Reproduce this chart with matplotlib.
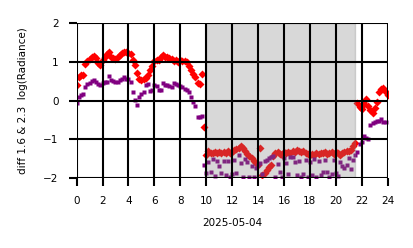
import numpy as np
import matplotlib
matplotlib.use("Agg")
import matplotlib.pyplot as plt

# diff of log radiance, 10-minute samples over the day
diff_16 = [
    0.40, 0.62, 0.65, 0.66, 0.95, 1.02, 1.07, 1.12, 1.16, 1.10, 0.97, 0.93,
    1.05, 1.13, 1.20, 1.26, 1.14, 1.10, 1.08, 1.12, 1.18, 1.24, 1.26, 1.25,
    1.22, 1.20, 1.05, 0.92, 0.72, 0.55, 0.52, 0.55, 0.58, 0.66, 0.78, 0.90,
    1.02, 1.06, 1.04, 1.12, 1.17, 1.12, 1.13, 1.10, 1.08, 1.02, 1.05, 1.00,
    1.05, 1.03, 1.02, 1.00, 0.90, 0.80, 0.68, 0.62, 0.45, 0.42, 0.68, -0.68,
    -1.42, -1.32, -1.35, -1.36, -1.33, -1.37, -1.34, -1.36, -1.33, -1.35, -1.30, -1.36,
    -1.33, -1.28, -1.25, -1.22, -1.19, -1.22, -1.30, -1.38, -1.44, -1.50, -1.56, -1.62,
    -1.68, -1.24, -1.92, -1.88, -1.80, -1.72, -1.66, -1.45, -1.36, -1.33, -1.38, -1.40,
    -1.34, -1.36, -1.33, -1.35, -1.30, -1.33, -1.28, -1.31, -1.34, -1.30, -1.36, -1.38,
    -1.42, -1.38, -1.40, -1.36, -1.38, -1.35, -1.37, -1.33, -1.38, -1.36, -1.34, -1.38,
    -1.33, -1.37, -1.40, -1.36, -1.34, -1.30, -1.32, -1.28, -1.18, -1.10, -0.07, -0.16,
    -0.22, -0.08, 0.05, -0.15, -0.25, -0.32, -0.20, -0.05, 0.22, 0.30, 0.33, 0.22,
    0.15,
]
diff_23 = [
    -0.07, 0.10, 0.13, 0.17, 0.36, 0.42, 0.45, 0.50, 0.53, 0.49, 0.42, 0.40,
    0.46, 0.47, 0.49, 0.63, 0.52, 0.50, 0.48, 0.49, 0.53, 0.56, 0.60, 0.57,
    0.55, 0.49, 0.23, 0.01, -0.12, 0.10, 0.18, 0.23, 0.40, 0.43, 0.25, 0.26,
    0.40, 0.38, 0.28, 0.26, 0.45, 0.40, 0.40, 0.38, 0.36, 0.45, 0.43, 0.40,
    0.37, 0.36, 0.30, 0.27, 0.23, 0.10, -0.03, -0.14, -0.42, -0.42, -0.40, -1.67,
    -1.87, -1.60, -1.84, -1.52, -1.95, -1.58, -1.71, -1.88, -1.56, -1.93, -1.58, -1.98,
    -1.90, -1.55, -1.87, -1.42, -1.62, -1.98, -1.52, -1.60, -1.97, -1.70, -1.98, -1.75,
    -1.68, -1.63, -1.90, -1.58, -1.54, -1.50, -1.46, -1.45, -1.98, -1.65, -1.86, -1.97,
    -1.49, -1.62, -1.90, -1.47, -1.46, -1.60, -1.92, -1.57, -1.98, -1.90, -1.55, -1.97,
    -1.60, -1.92, -1.52, -1.97, -1.57, -1.94, -1.85, -1.53, -1.84, -1.97, -1.91, -1.55,
    -1.88, -1.95, -1.60, -1.71, -1.75, -1.67, -1.50, -1.78, -1.55, -1.41, -1.33, -1.13,
    -1.07, -0.92, -0.98, -1.00, -0.64, -0.59, -0.56, -0.52, -0.53, -0.48, -0.55, -0.56,
    np.nan,
]
hours = np.arange(len(diff_16)) / 6.0
night = (10.0, 21.5)

fig = plt.figure(figsize=(4.14, 2.48), dpi=100)
ax = fig.add_axes([0.185, 0.2835, 0.7515, 0.6225])

ax.plot(hours, diff_16, ls="none", marker="D", ms=3.6, color="red", mec="none", zorder=2)
ax.plot(hours, diff_23, ls="none", marker="s", ms=3.3, color="purple", mec="none", zorder=2)
ax.axvspan(night[0], night[1], color="gray", alpha=0.3, zorder=2.2)

ax.set_xlim(0, 24)
ax.set_ylim(-2, 2)
ax.set_xticks(range(0, 25, 2))
ax.set_yticks(range(-2, 3))
for s in ax.spines.values():
    s.set_visible(False)
ax.set_axisbelow(False)
ax.grid(True, color="black", lw=1.5)
ax.tick_params(length=6, width=1.5, pad=7, labelsize=7.5, colors="black")
ax.set_xlabel("2025-05-04", fontsize=7.5, labelpad=9)
ax.set_ylabel("diff 1.6 & 2.3  log(Radiance)", fontsize=7.5, labelpad=11)

fig.savefig("out.png", dpi=100)
